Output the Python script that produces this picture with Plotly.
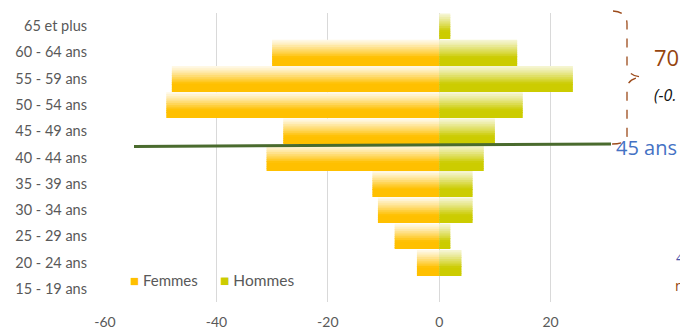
import plotly.graph_objects as go

# ---- data (bottom to top) ----
categories = ["15 - 19 ans", "20 - 24 ans", "25 - 29 ans", "30 - 34 ans", "35 - 39 ans",
              "40 - 44 ans", "45 - 49 ans", "50 - 54 ans", "55 - 59 ans", "60 - 64 ans",
              "65 et plus"]
femmes = [0, -4, -8, -11, -12, -31, -28, -49, -48, -30, 0]
hommes = [0, 4, 2, 6, 6, 8, 10, 15, 24, 14, 2]
x_ticks = [-60, -40, -20, 0, 20]

# page body has an 8px margin; figure is sized so it ends at the window edge
OFF = 8
W, H = 688 - OFF, 331 - OFF
# plot area in window pixels
PL, PR, PT, PB = 105, 662, 13, 302
ML, MR, MT, MB = PL - OFF, W - (PR - OFF), PT - OFF, H - (PB - OFF)
PW, PH = PR - PL, PB - PT

def px(x):
    return (x - PL) / PW

def py(y):
    return (PB - y) / PH

def mix(c1, c2, t):
    return "rgb(%d,%d,%d)" % tuple(round(a + (b - a) * t) for a, b in zip(c1, c2))

fig = go.Figure()

N = 14
BW = 0.96
series = [("Femmes", femmes, (255, 250, 236), (255, 192, 0)),
          ("Hommes", hommes, (246, 246, 215), (204, 204, 0))]
for name, vals, light, full in series:
    for k in range(N):
        t = (k + 0.5) / N  # 0 top -> 1 bottom
        tt = min(1.0, t / 0.7) ** 1.15
        fig.add_trace(go.Bar(
            x=vals, y=categories, orientation="h",
            width=BW / N, offset=BW / 2 - (k + 1) * BW / N,
            marker=dict(color=mix(light, full, tt), line=dict(width=0)),
            name=name, showlegend=False, hoverinfo="skip"))

# legend (drawn as text items)
fig.add_annotation(xref="paper", yref="paper", x=px(128), y=py(280),
                   xanchor="left", yanchor="middle", showarrow=False,
                   text="<span style='color:#FFC000'>■</span> Femmes",
                   font=dict(family="Lato", size=15, color="#595959"))
fig.add_annotation(xref="paper", yref="paper", x=px(218), y=py(280),
                   xanchor="left", yanchor="middle", showarrow=False,
                   text="<span style='color:#CCCC00'>■</span> Hommes",
                   font=dict(family="Lato", size=15.5, color="#595959"))

# annotation shapes (dark green 45-year line, dashed brace)
fig.add_shape(type="line", xref="paper", yref="paper",
              x0=px(134), y0=py(146.5), x1=px(611), y1=py(144),
              line=dict(color="#4A6B2E", width=3))
brace = ("M {a},{b} Q {c},{d} {e},{f} L {g},{h} Q {i},{j} {k},{l} "
         "Q {m},{n} {o},{p} L {q},{r} Q {s},{t} {u},{v}").format(
    a=px(613), b=py(11), c=px(627), d=py(12), e=px(627), f=py(24),
    g=px(627), h=py(66), i=px(628), j=py(76), k=px(642), l=py(77),
    m=px(628), n=py(78), o=px(627), p=py(88),
    q=px(627), r=py(136), s=px(627), t=py(144), u=px(612), v=py(144))
fig.add_shape(type="path", xref="paper", yref="paper", path=brace,
              line=dict(color="#9C4A1A", width=1.3, dash="dash"))

fig.add_annotation(xref="paper", yref="paper", x=px(652), y=py(57),
                   xanchor="left", yanchor="middle", showarrow=False,
                   text="70.", font=dict(family="Open Sans", size=22, color="#96450F"))
fig.add_annotation(xref="paper", yref="paper", x=px(652), y=py(95),
                   xanchor="left", yanchor="middle", showarrow=False,
                   text="<i>(-0.</i>", font=dict(family="Open Sans", size=16, color="#111111"))
fig.add_annotation(xref="paper", yref="paper", x=px(614), y=py(147),
                   xanchor="left", yanchor="middle", showarrow=False,
                   text="45 ans", font=dict(family="Open Sans", size=20, color="#4472C4"))
fig.add_annotation(xref="paper", yref="paper", x=px(686), y=py(257),
                   xanchor="right", yanchor="middle", showarrow=False,
                   text="4", font=dict(family="Open Sans", size=14, color="#4A52A8"))
fig.add_annotation(xref="paper", yref="paper", x=px(686), y=py(285),
                   xanchor="right", yanchor="middle", showarrow=False,
                   text="n", font=dict(family="Open Sans", size=14, color="#96450F"))

fig.update_layout(
    width=W, height=H, margin=dict(l=ML, r=MR, t=MT, b=MB),
    paper_bgcolor="white", plot_bgcolor="white",
    barmode="overlay", bargap=0.04,
    font=dict(family="Lato", size=14, color="#595959"),
    showlegend=False,
    xaxis=dict(range=[-60, 40], tickvals=x_ticks, ticktext=[str(v) for v in x_ticks],
               showgrid=True, gridcolor="#D9D9D9", gridwidth=1, zeroline=False,
               showline=False, ticks="", ticklabelstandoff=10, automargin=False,
               tickfont=dict(family="Lato", size=14, color="#595959")),
    yaxis=dict(type="category", categoryorder="array", categoryarray=categories,
               showgrid=False, zeroline=False, showline=False, ticks="", automargin=False,
               ticklabelstandoff=17, tickfont=dict(family="Lato", size=14.5, color="#595959")),
)

fig.write_html("out.html")
